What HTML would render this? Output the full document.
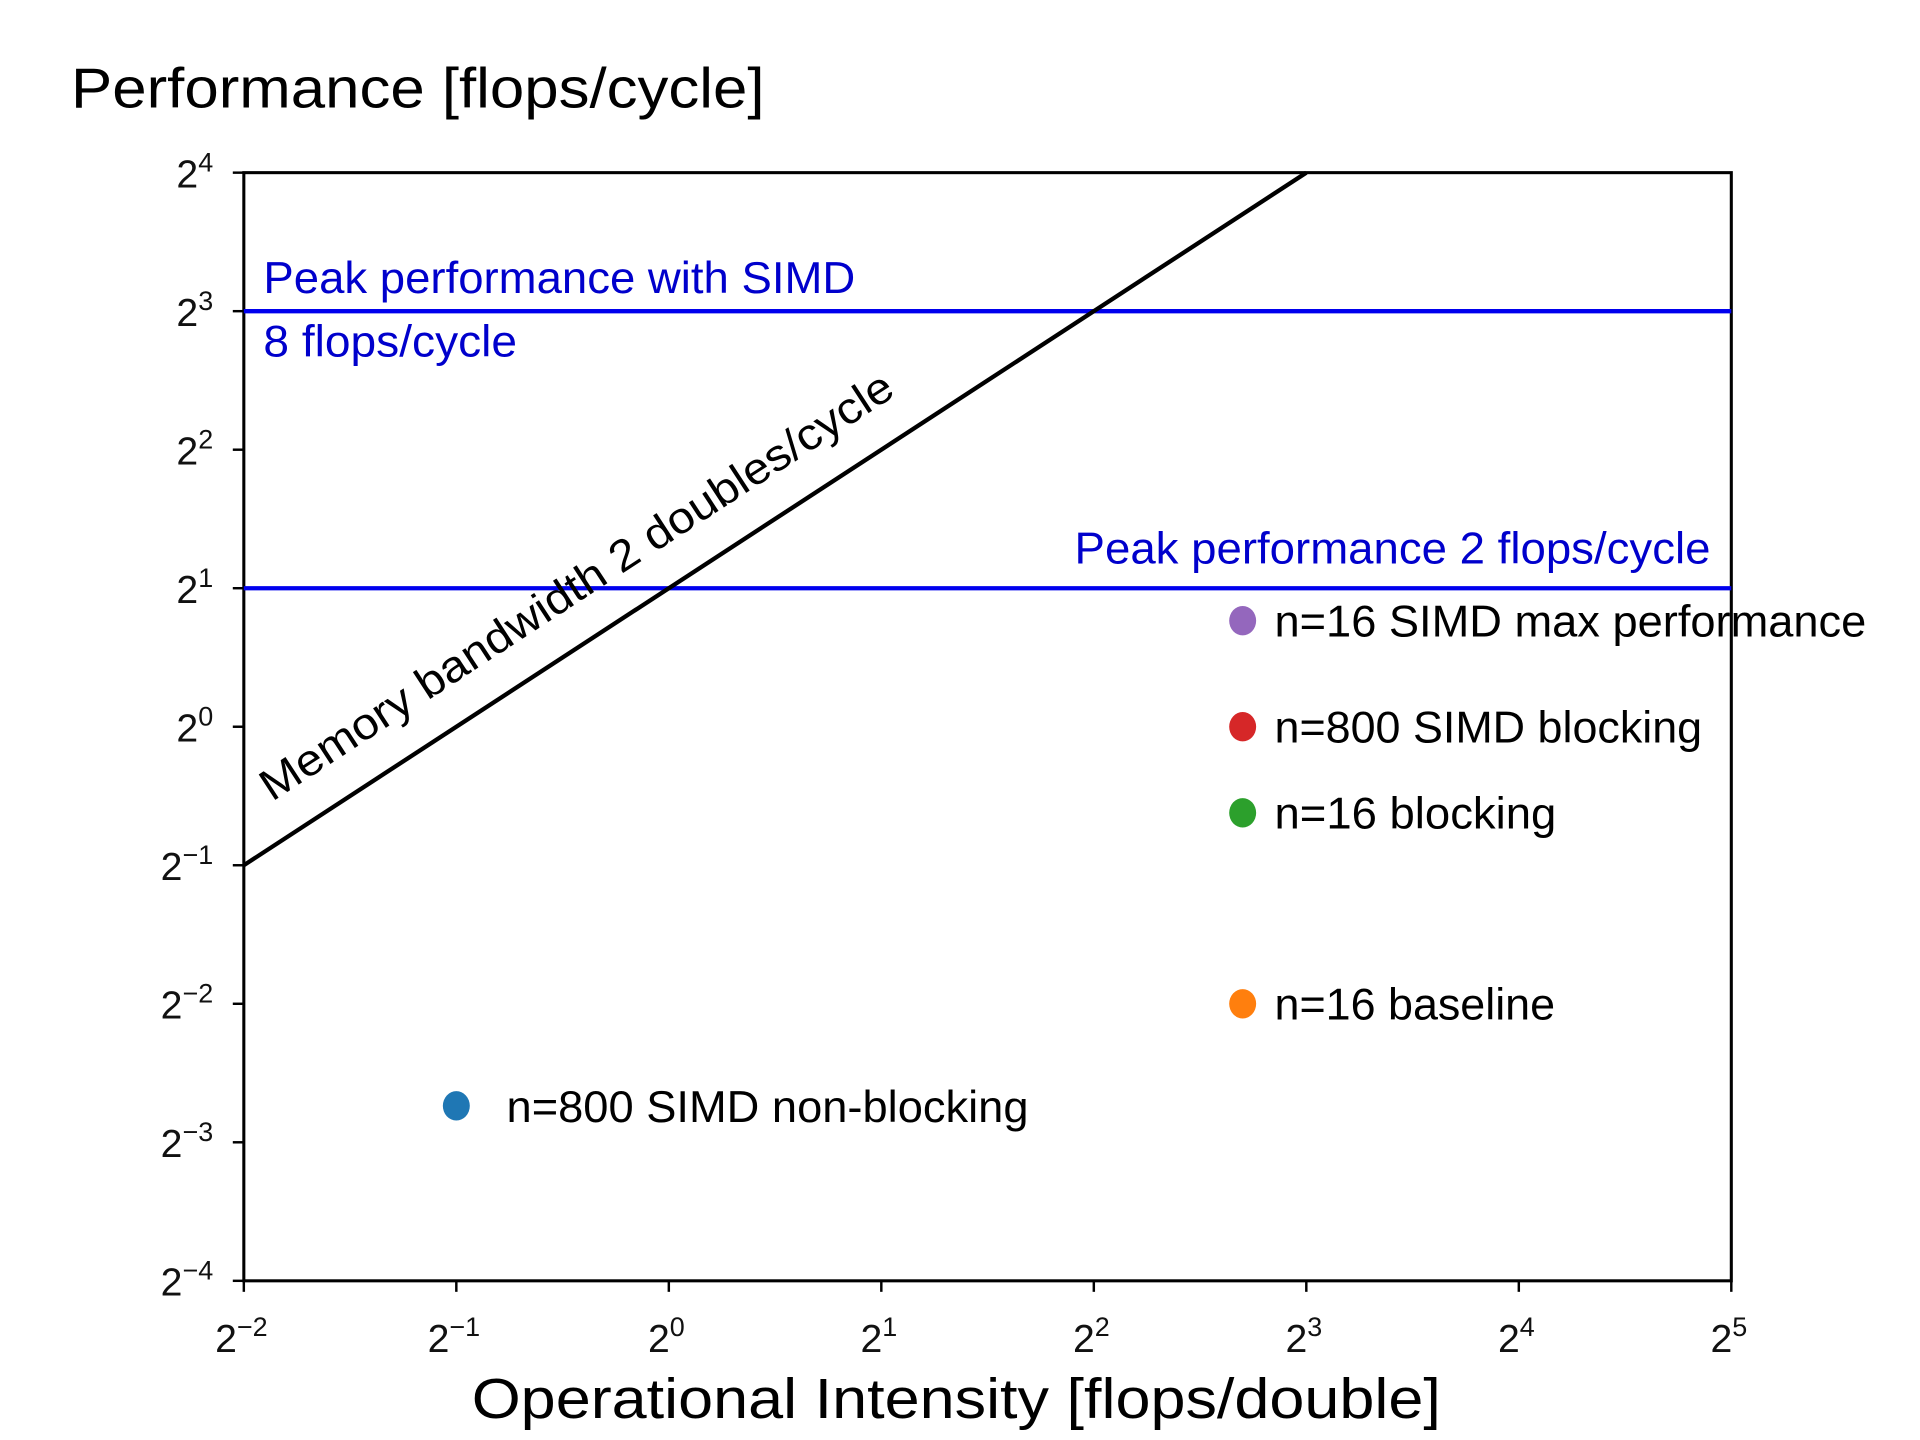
<!DOCTYPE html>
<html><head><meta charset="utf-8"><style>
html,body{margin:0;padding:0;background:#fff;width:1920px;height:1440px;overflow:hidden}
svg{display:block}
text{font-family:"Liberation Sans",sans-serif}
</style></head><body>
<svg id="chart" width="1920" height="1440" viewBox="0 0 1567 1176" preserveAspectRatio="none" xmlns="http://www.w3.org/2000/svg">
<text x="58" y="88" font-size="46" textLength="566" lengthAdjust="spacingAndGlyphs">Performance [flops/cycle]</text>
<text x="385" y="1158" font-size="46" textLength="791" lengthAdjust="spacingAndGlyphs">Operational Intensity [flops/double]</text>
<g id="grid"></g>
<rect x="199" y="141" width="1214" height="905" fill="none" stroke="#000" stroke-width="2.5"/>
<g id="marks"></g>
</svg>
<script>
const xExps = [-2,-1,0,1,2,3,4,5];
const yExps = [-4,-3,-2,-1,0,1,2,3,4];
const roofValues = [8, 2];
const roofLabels = ["Peak performance with SIMD", "Peak performance 2 flops/cycle"];
const bandwidth = [2];
const pointNames = ["n=800 SIMD non-blocking","n=16 baseline","n=16 blocking","n=800 SIMD blocking","n=16 SIMD max performance"];
const pointX = [0.5, 6.5, 6.5, 6.5, 6.5];
const pointY = [0.15, 0.25, 0.65, 1.0, 1.7];
const pointColors = ["#1f77b4","#ff7f0e","#2ca02c","#d62728","#9467bd"];

const L=199,R=1413,T=141,B=1046;
const xMin=-2,xMax=5,yMin=-4,yMax=4;
const sx=v=>L+(Math.log2(v)-xMin)/(xMax-xMin)*(R-L);
const sy=v=>B-(Math.log2(v)-yMin)/(yMax-yMin)*(B-T);
const NS="http://www.w3.org/2000/svg";
const g=document.getElementById('grid'), m=document.getElementById('marks');
function mk(tag,attrs,parent){const e=document.createElementNS(NS,tag);for(const k in attrs)e.setAttribute(k,attrs[k]);parent.appendChild(e);return e;}
function pow(parent,x,y,exp,anchor){
  const t=mk('text',{x:x,y:y,'font-size':32,'text-anchor':anchor,fill:'#111'},parent);
  
  
  t.textContent='2';
  const s=mk('tspan',{dy:-13,'font-size':22},t);
  s.textContent=(exp<0?'\u2212':'')+Math.abs(exp);
  return t;
}
xExps.forEach(e=>{
  const x=sx(Math.pow(2,e));
  const l=mk('line',{x1:x,x2:x,y1:B,y2:B+9,stroke:'#000','stroke-width':2},g);
  
  
  pow(g,x-2,B+58,e,'middle');
});
yExps.forEach(e=>{
  const y=sy(Math.pow(2,e));
  const l=mk('line',{x1:L-9,x2:L,y1:y,y2:y,stroke:'#000','stroke-width':2},g);
  
  
  pow(g,174,y+12,e,'end');
});
roofValues.forEach((v,i)=>{
  const y=sy(v);
  const l=mk('line',{x1:L,x2:R,y1:y,y2:y,stroke:'#0000ee','stroke-width':3.5},m);
  
  
});
let t;
t=mk('text',{x:215,y:sy(roofValues[0])-15,'font-size':36,fill:'#0000cc',textLength:483,lengthAdjust:'spacingAndGlyphs'},m);


t.textContent=roofLabels[0];
t=mk('text',{x:215,y:sy(roofValues[0])+37,'font-size':36,fill:'#0000cc',textLength:207,lengthAdjust:'spacingAndGlyphs'},m);


t.textContent=roofValues[0]+' flops/cycle';
t=mk('text',{x:877,y:sy(roofValues[1])-20,'font-size':36,fill:'#0000cc',textLength:519,lengthAdjust:'spacingAndGlyphs'},m);


t.textContent=roofLabels[1];
const b=bandwidth[0];
const x0=Math.pow(2,xMin), x1=Math.pow(2,yMax)/b;
const bl=mk('line',{x1:sx(x0),y1:sy(b*x0),x2:sx(x1),y2:sy(b*x1),stroke:'#000','stroke-width':3.5},m);


const ang=Math.atan2(sy(b*x1)-sy(b*x0),sx(x1)-sx(x0))*180/Math.PI;
t=mk('text',{x:0,y:0,'font-size':36,fill:'#000',textLength:609,lengthAdjust:'spacingAndGlyphs',transform:'translate(222,655) rotate('+ang+')'},m);


t.textContent='Memory bandwidth '+b+' doubles/cycle';
const lw=[426,229,230,349,483];
pointNames.forEach((n,i)=>{
  const cx=sx(pointX[i]), cy=sy(pointY[i]);
  const c=mk('ellipse',{cx:cx,cy:cy,rx:11,ry:12,fill:pointColors[i]},m);
  
  
  const lx = i===0 ? cx+41 : cx+26;
  const tx=mk('text',{x:lx,y:cy+13,'font-size':36,fill:'#000',textLength:lw[i],lengthAdjust:'spacingAndGlyphs'},m);
  
  
  tx.textContent=n;
});
</script>
</body></html>
